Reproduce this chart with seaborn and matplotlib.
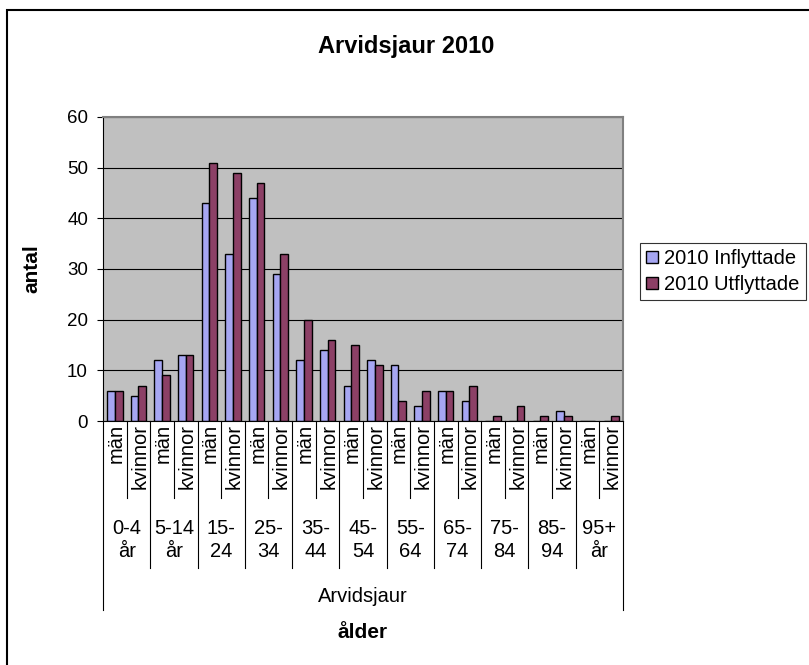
import pandas as pd
import seaborn as sns
import matplotlib.pyplot as plt
from matplotlib.patches import Rectangle

# data
aldersgrupper = ['0-4\når', '5-14\når', '15-\n24', '25-\n34', '35-\n44', '45-\n54',
                 '55-\n64', '65-\n74', '75-\n84', '85-\n94', '95+\når']
kon = ['män', 'kvinnor']
inflyttade = [6, 5, 12, 13, 43, 33, 44, 29, 12, 14, 7, 12, 11, 3, 6, 4, 0, 0, 0, 2, 0, 0]
utflyttade = [6, 7, 9, 13, 51, 49, 47, 33, 20, 16, 15, 11, 4, 6, 6, 7, 1, 3, 1, 1, 0, 1]
serier = ['2010 Inflyttade', '2010 Utflyttade']
farger = ['#9999FF', '#993366']

kategorier = [g + '|' + k for g in aldersgrupper for k in kon]
df = pd.DataFrame({
    'kategori': kategorier * 2,
    'serie': [serier[0]] * len(kategorier) + [serier[1]] * len(kategorier),
    'antal': inflyttade + utflyttade,
})

plt.rcParams['font.family'] = ['Liberation Sans', 'DejaVu Sans']

fig = plt.figure(figsize=(8.09, 6.65), dpi=100)
ax = fig.add_axes([103 / 809, 1 - 421 / 665, 520 / 809, 304 / 665])

sns.barplot(data=df, x='kategori', y='antal', hue='serie', order=kategorier,
            hue_order=serier, palette=dict(zip(serier, farger)), width=0.65,
            edgecolor='black', linewidth=1, ax=ax)

ax.set_facecolor('#C0C0C0')
ax.set_ylim(0, 60)
ax.set_yticks(range(0, 61, 10))
ax.set_xlim(-0.5, len(kategorier) - 0.5)
ax.yaxis.grid(True, color='black', linewidth=0.8)
ax.set_axisbelow(True)
ax.set_xticks([])
ax.set_xlabel('')
ax.set_ylabel('antal', fontsize=15, fontweight='bold')
ax.yaxis.set_label_coords(-0.118, 0.5)
ax.tick_params(axis='y', labelsize=13.5, length=4.3, pad=6.5, color='black')
for side in ['top', 'right']:
    ax.spines[side].set_color('#808080')
    ax.spines[side].set_linewidth(1.5)
ax.spines['left'].set_color('black')
ax.spines['bottom'].set_color('black')

# multi-level category axis
def fy(py):
    return (421 - py) / 304

blend = ax.get_xaxis_transform()
n = len(kategorier)
for i in range(n + 1):
    x = i - 0.5
    if i == 0 or i == n:
        bottom = fy(610)
    elif i % 2 == 0:
        bottom = fy(568)
    else:
        bottom = fy(498)
    ax.plot([x, x], [0, bottom], color='black', linewidth=0.8,
            transform=blend, clip_on=False)

for i, kat in enumerate(kategorier):
    ax.text(i + 0.05, fy(424), kat.split('|')[1], rotation=90, ha='center', va='top',
            fontsize=14.5, transform=blend)

for g, grupp in enumerate(aldersgrupper):
    ax.text(2 * g + 0.5, fy(540), grupp, ha='center', va='center', fontsize=14.5,
            linespacing=1.3, transform=blend)

ax.text(0.5, fy(597), 'Arvidsjaur', ha='center', va='center', fontsize=14.5,
        transform=ax.transAxes)
ax.text(0.5, fy(633), 'ålder', ha='center', va='center', fontsize=15,
        fontweight='bold', transform=ax.transAxes)

fig.text(0.502, 1 - 47 / 665, 'Arvidsjaur 2010', ha='center', va='center',
         fontsize=17, fontweight='bold')

handles, labels = ax.get_legend_handles_labels()
ax.get_legend().remove()
leg = fig.legend(handles, labels, loc='upper left',
                 bbox_to_anchor=(640 / 809, 1 - 243 / 665), fontsize=14.5,
                 frameon=True, fancybox=False, edgecolor='black',
                 handlelength=0.6, handleheight=0.6, handletextpad=0.3,
                 borderpad=0.3, labelspacing=0.35, borderaxespad=0)
leg.get_frame().set_linewidth(0.8)

fig.patches.append(Rectangle((6.5 / 809, -0.1), 1.2, 1.1 - 10 / 665, fill=False,
                             edgecolor='black', linewidth=1.5,
                             transform=fig.transFigure, figure=fig))

fig.savefig('out.png', dpi=100)
